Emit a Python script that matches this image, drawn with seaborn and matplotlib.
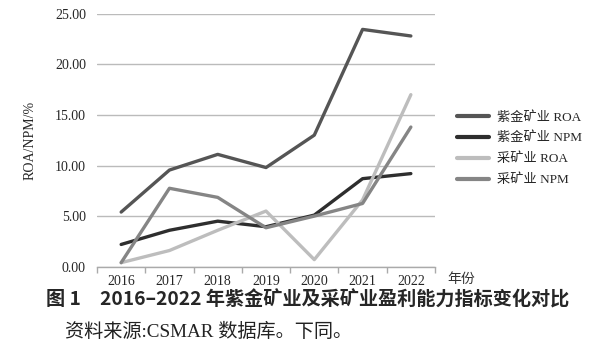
import numpy as np
import matplotlib.pyplot as plt
import pandas as pd
import seaborn as sns

years = ['2016', '2017', '2018', '2019', '2020', '2021', '2022']
zijin_roa = [5.4, 9.55, 11.1, 9.8, 13.0, 23.45, 22.8]
zijin_npm = [2.2, 3.6, 4.5, 3.95, 5.1, 8.7, 9.2]
mining_roa = [0.4, 1.6, 3.6, 5.5, 0.7, 6.6, 17.0]
mining_npm = [0.4, 7.75, 6.85, 3.85, 5.0, 6.25, 13.8]

series_names = ['紫金矿业 ROA', '紫金矿业 NPM', '采矿业 ROA', '采矿业 NPM']
colors = ['#555555', '#2e2e2e', '#bdbdbd', '#858585']

df = pd.DataFrame({
    'year': years * 4,
    'idx': list(range(len(years))) * 4,
    'value': zijin_roa + zijin_npm + mining_roa + mining_npm,
    'series': [s for s in series_names for _ in years],
})

sns.set_theme(style='white')
plt.rcParams['font.family'] = ['Liberation Serif', 'Noto Sans CJK SC']

fig = plt.figure(figsize=(6, 3.58), dpi=100)
ax = fig.add_axes([0.1617, 0.255, 0.5633, 0.7067])

sns.lineplot(data=df, x='idx', y='value', hue='series', hue_order=series_names,
             palette=colors, linewidth=2.4, ax=ax, legend=True)

ax.set_xlim(-0.5, 6.5)
ax.set_ylim(0, 25)
ax.set_yticks(np.arange(0, 26, 5))
ax.set_yticklabels([f'{v:.2f}' for v in np.arange(0, 26, 5)], fontsize=10)
ax.set_xticks(range(len(years)))
ax.set_xticklabels(years, fontsize=10)
ax.set_xticks(np.arange(-0.5, 7, 1), minor=True)
ax.tick_params(axis='x', which='major', length=0, pad=6)
ax.tick_params(axis='x', which='minor', length=4, direction='out', color='#aaaaaa', bottom=True)
ax.tick_params(axis='y', length=0, pad=8)
ax.yaxis.grid(True, color='#bbbbbb', linewidth=1)
ax.set_axisbelow(True)
for side in ['left', 'right', 'top']:
    ax.spines[side].set_visible(False)
ax.spines['bottom'].set_color('#aaaaaa')
ax.spines['bottom'].set_linewidth(1)

ax.set_xlabel('')
ax.set_ylabel('ROA/NPM/%', fontsize=10, labelpad=13)
ax.text(6.75, -1.2, '年份', fontsize=10, ha='left', va='center', color='#333333',
        family=['Noto Sans CJK SC'])

leg = ax.legend(loc='center left', bbox_to_anchor=(1.03, 0.467), frameon=False,
                fontsize=9.5, handlelength=2.4, handletextpad=0.6, labelspacing=0.62)
for line in leg.get_lines():
    line.set_linewidth(3)

fig.text(0.5125, 0.162, '图 1　2016–2022 年紫金矿业及采矿业盈利能力指标变化对比',
         ha='center', va='center', fontsize=13.8, fontweight='bold',
         family=['Noto Sans CJK SC'])
fig.text(0.108, 0.073, '资料来源:CSMAR 数据库。下同。', ha='left', va='center',
         fontsize=13.8, family=['Liberation Serif', 'Noto Sans CJK SC'], color='#222222')

fig.savefig('out.png', dpi=100)
